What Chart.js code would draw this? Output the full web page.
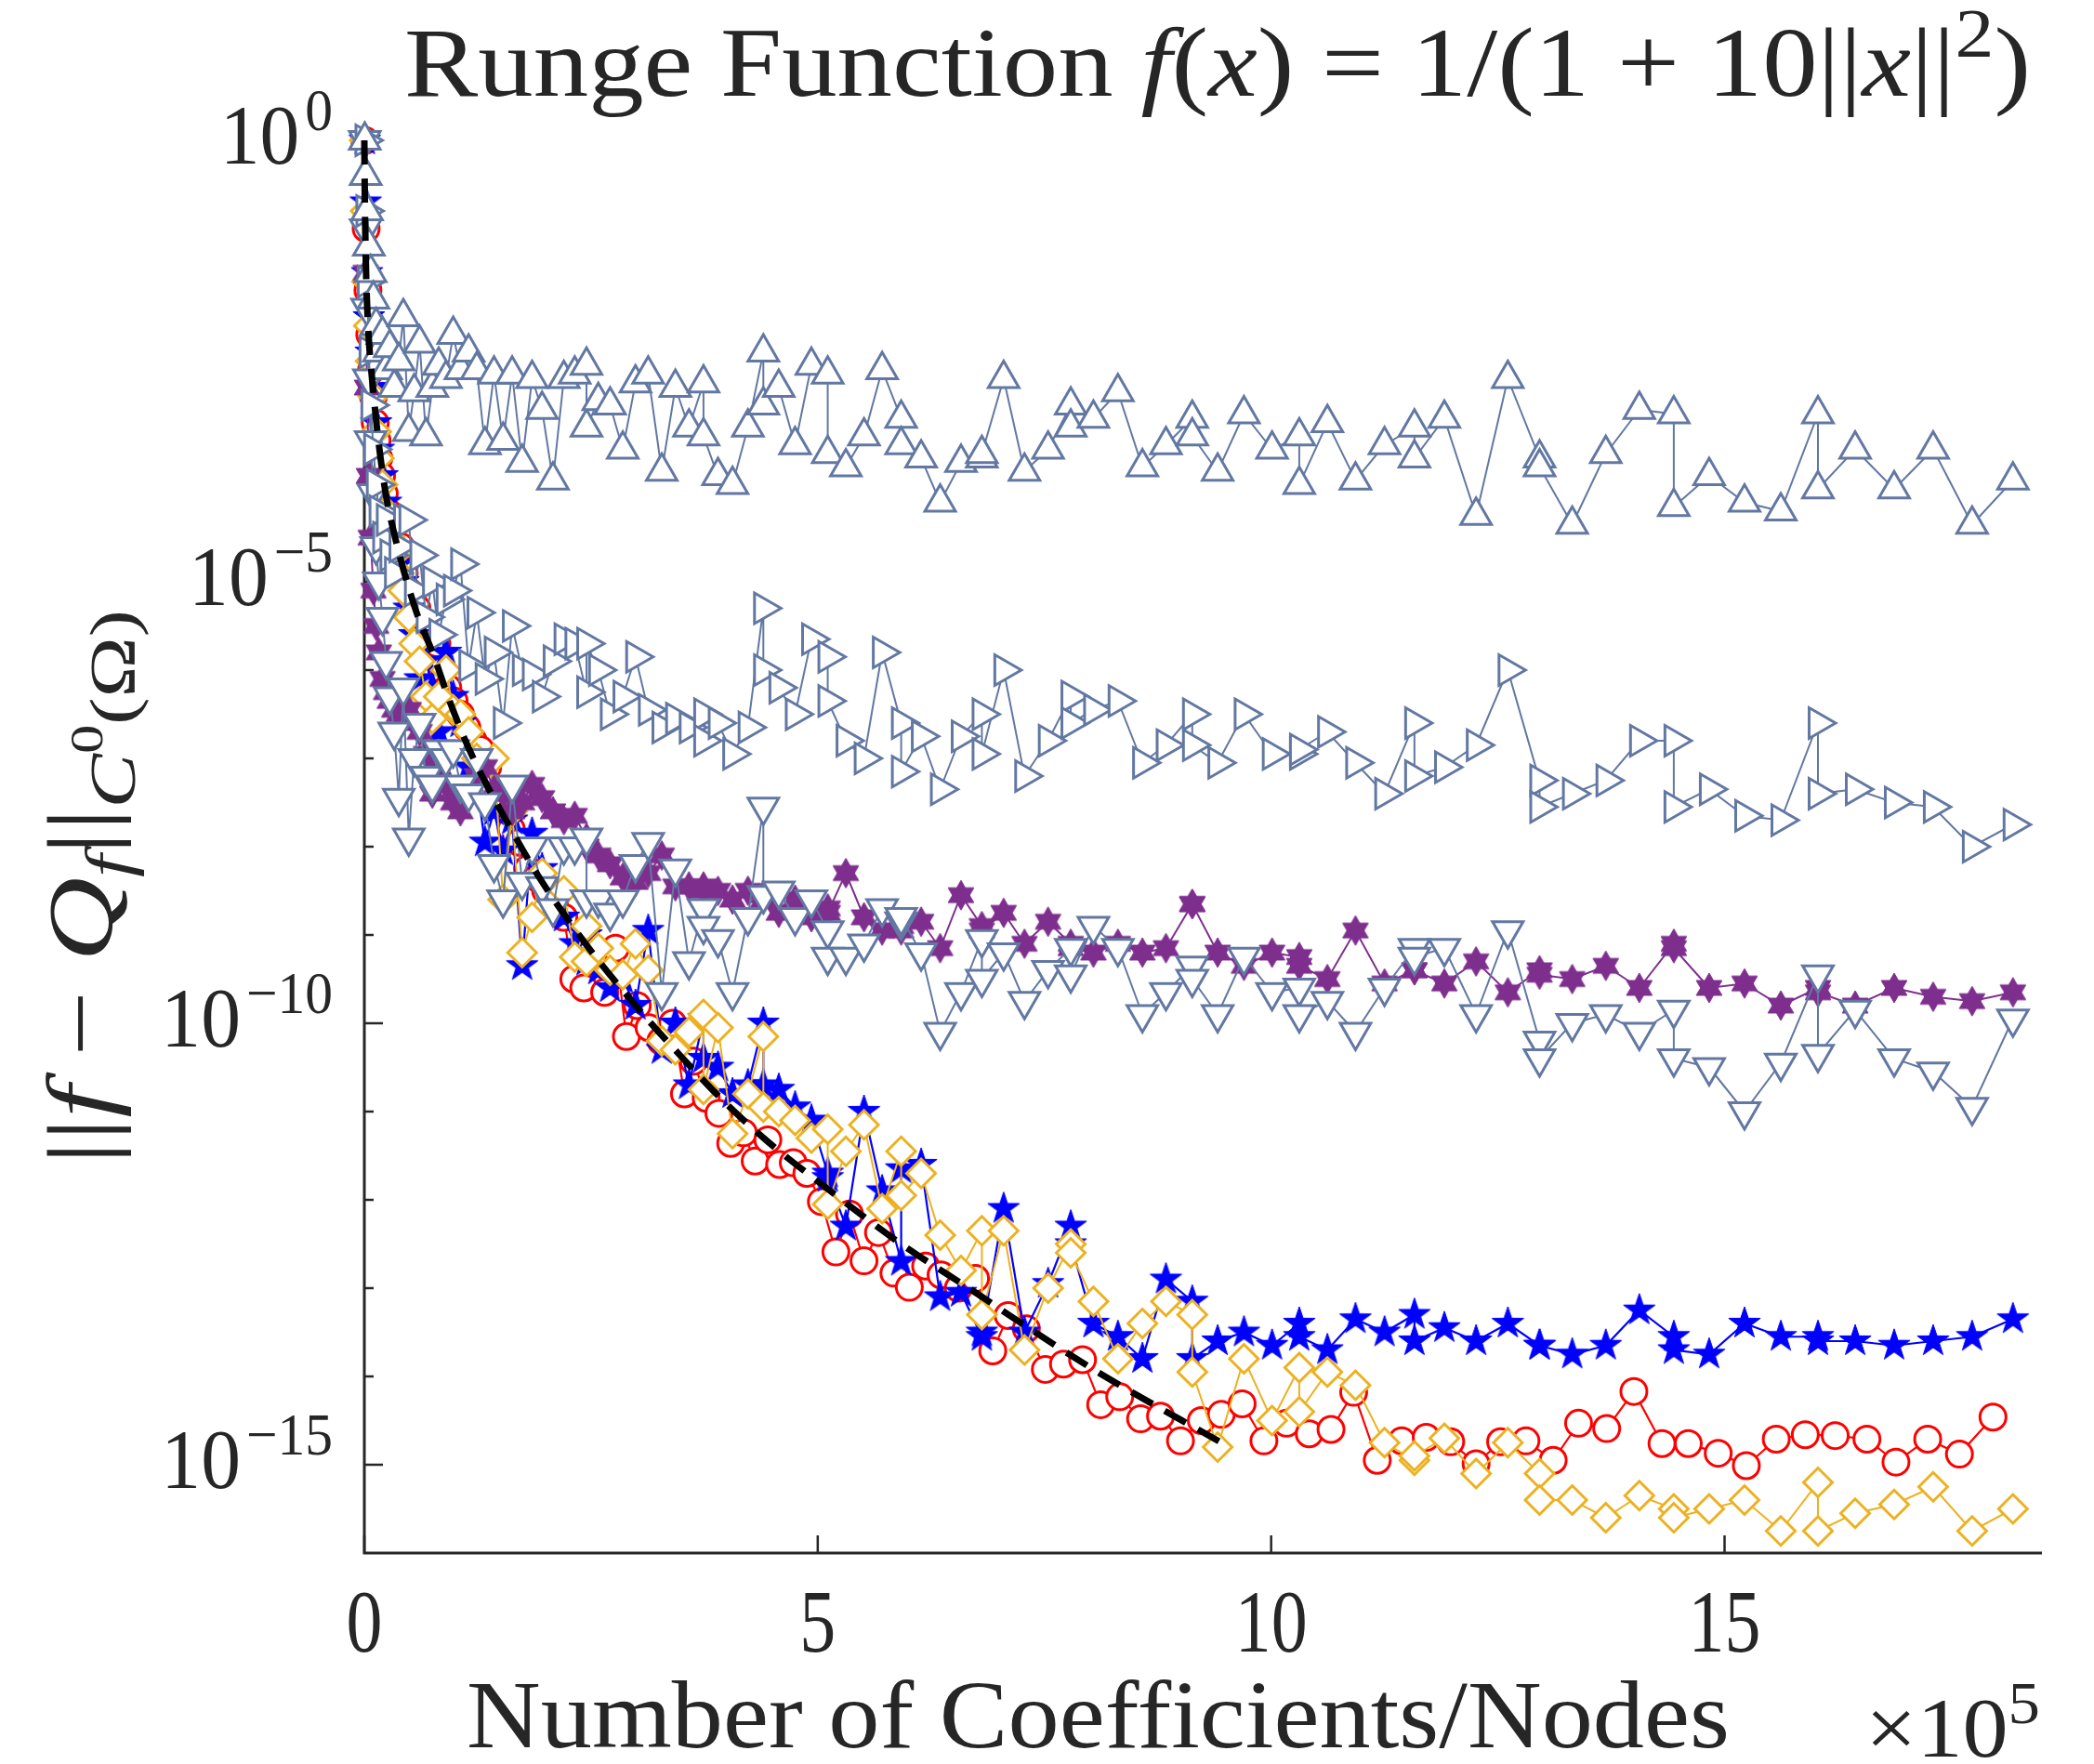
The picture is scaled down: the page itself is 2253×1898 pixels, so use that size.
<!DOCTYPE html>
<html>
<head>
<meta charset="utf-8">
<script src="https://cdn.jsdelivr.net/npm/chart.js@4.4.1/dist/chart.umd.min.js"></script>
<style>
  html, body { margin: 0; padding: 0; background: #fff; }
  #wrap { width: 2253px; height: 1898px; position: relative; }
</style>
</head>
<body>
<div id="wrap"><canvas id="chart"></canvas></div>
<script>
// x positions (units of 1e5) shared by the triangle, hexagram, pentagram and diamond runs
const xGrid = [0.005, 0.015, 0.03, 0.05, 0.07, 0.10, 0.13, 0.16, 0.20, 0.24,
  0.28, 0.33, 0.38, 0.43, 0.49, 0.55, 0.61, 0.68, 0.75, 0.82,
  0.90, 0.98, 1.06, 1.15, 1.24, 1.33, 1.43, 1.53, 1.63, 1.74,
  1.85, 1.96, 2.08, 2.20, 2.32, 2.45, 2.45, 2.58, 2.71, 2.85,
  2.99, 3.13, 3.28, 3.43, 3.58, 3.74, 3.74, 3.90, 4.06, 4.23,
  4.40, 4.40, 4.57, 4.75, 4.93, 5.11, 5.11, 5.31, 5.51, 5.71,
  5.92, 5.92, 6.14, 6.35, 6.58, 6.81, 6.81, 7.05, 7.28, 7.54,
  7.79, 7.79, 8.04, 8.31, 8.58, 8.84, 9.13, 9.13, 9.41, 9.70,
  10.01, 10.31, 10.31, 10.62, 10.93, 11.25, 11.58, 11.58, 11.91, 12.26,
  12.61, 12.96, 12.96, 13.32, 13.69, 14.06, 14.44, 14.44, 14.83, 15.22,
  15.62, 16.03, 16.03, 16.44, 16.87, 17.30, 17.73, 18.18];

// log10 of the error
const logUpTri = [0, -0.4, -0.8, -1.2, -1.5, -1.8, -2.1, -2.4, -2.2, -2.6,
  -2.35, -2.8, -2.5, -2.0, -3.3, -2.85, -2.3, -3.35, -2.8, -2.55,
  -2.7, -2.2, -2.6, -2.4, -2.6, -3.45, -2.65, -3.4, -2.65, -3.65,
  -2.7, -3.05, -3.85, -2.7, -2.65, -2.55, -3.25, -2.95, -3.0, -3.5,
  -2.75, -2.65, -3.75, -2.8, -3.25, -2.75, -3.35, -3.8, -3.9, -3.25,
  -2.4, -3.0, -2.8, -3.45, -2.55, -2.65, -3.55, -3.7, -3.35, -2.6,
  -3.15, -3.45, -3.6, -4.1, -3.65, -3.6, -3.55, -2.7, -3.75, -3.5,
  -3.0, -3.25, -3.15, -2.85, -3.7, -3.45, -3.15, -3.35, -3.75, -3.1,
  -3.5, -3.35, -3.9, -3.2, -3.85, -3.45, -3.25, -3.6, -3.15, -4.25,
  -2.7, -3.6, -3.7, -4.35, -3.55, -3.05, -3.1, -4.15, -3.8, -4.1,
  -4.2, -3.1, -3.95, -3.5, -3.95, -3.5, -4.35, -3.85];

const logRightTri = [0, -0.8, -1.6, -2.4, -3.0, -3.5, -3.9, -4.2, -4.5, -4.3,
  -4.7, -4.9, -4.6, -4.3, -4.3, -5.1, -4.7, -5.4, -5.0, -5.6,
  -5.2, -5.1, -4.8, -5.95, -5.35, -6.1, -5.8, -6.6, -5.5, -6.0,
  -6.05, -6.3, -5.9, -5.65, -5.7, -6.25, -5.7, -6.0, -6.5, -6.3,
  -5.85, -6.45, -6.65, -6.55, -6.65, -6.5, -6.8, -6.6, -6.95, -6.65,
  -5.3, -6.0, -6.2, -6.5, -5.65, -5.85, -6.35, -6.8, -7.0, -5.8,
  -6.6, -7.15, -6.75, -7.35, -6.75, -6.5, -6.95, -6.0, -7.2, -6.8,
  -6.3, -6.6, -6.45, -6.35, -7.05, -6.85, -6.5, -6.85, -7.05, -6.5,
  -6.95, -6.95, -6.9, -6.7, -7.05, -7.4, -6.6, -7.2, -7.1, -6.85,
  -6.0, -7.25, -7.55, -7.4, -7.25, -6.8, -6.8, -7.55, -7.35, -7.65,
  -7.7, -6.6, -7.4, -7.35, -7.5, -7.55, -8.0, -7.75];

const logDownTri = [0, -1.0, -1.9, -2.7, -3.4, -4.0, -4.6, -5.0, -5.4, -5.9,
  -6.3, -6.7, -7.45, -6.2, -7.9, -7.0, -6.6, -7.2, -7.3, -6.9,
  -7.0, -6.9, -7.3, -7.4, -7.0, -7.5, -8.2, -8.6, -7.3, -8.4,
  -8.0, -8.45, -8.7, -8.0, -8.0, -7.9, -8.6, -8.6, -8.75, -8.6,
  -8.2, -7.95, -9.65, -8.25, -9.3, -8.7, -8.9, -9.05, -9.65, -8.8,
  -7.55, -8.55, -8.5, -8.8, -8.6, -8.95, -9.25, -9.25, -9.1, -8.7,
  -8.85, -8.8, -9.2, -10.1, -9.65, -9.05, -9.5, -9.2, -9.75, -9.4,
  -9.15, -9.45, -8.9, -9.15, -9.9, -9.65, -9.35, -9.5, -9.9, -9.25,
  -9.65, -9.6, -9.9, -9.75, -10.1, -9.6, -9.15, -9.25, -9.15, -9.9,
  -8.95, -10.2, -10.4, -10.0, -9.9, -10.1, -9.85, -10.4, -10.5, -11.0,
  -10.45, -9.45, -10.35, -9.85, -10.4, -10.55, -10.95, -9.95];

const logHexagram = [0, -1.5, -2.8, -3.8, -4.5, -5.1, -5.5, -5.8, -6.1, -6.25,
  -6.35, -6.45, -6.5, -6.55, -6.45, -6.6, -6.7, -6.95, -7.4, -7.1,
  -7.3, -7.5, -7.6, -7.3, -7.2, -7.1, -7.35, -7.4, -7.6, -7.5,
  -7.3, -7.45, -7.6, -7.7, -7.65, -7.9, -8.0, -8.1, -8.2, -8.35,
  -8.4, -8.3, -8.1, -8.45, -8.45, -8.5, -8.45, -8.5, -8.6, -8.5,
  -8.6, -8.55, -8.75, -8.6, -8.8, -8.7, -8.75, -8.3, -8.8, -8.95,
  -8.95, -8.9, -8.85, -9.15, -8.55, -8.9, -8.95, -8.75, -9.1, -8.85,
  -9.1, -9.15, -9.2, -9.1, -9.2, -9.15, -8.65, -8.65, -9.2, -9.35,
  -9.2, -9.25, -9.35, -9.5, -8.95, -9.55, -9.4, -9.4, -9.55, -9.3,
  -9.65, -9.4, -9.45, -9.5, -9.35, -9.6, -9.1, -9.15, -9.6, -9.55,
  -9.8, -9.6, -9.65, -9.8, -9.6, -9.7, -9.75, -9.65];

const logPentagram = [0, -0.7, -1.5, -2.0, -2.4, -2.8, -3.2, -3.5, -3.8, -4.1,
  -4.4, -4.6, -4.8, -5.0, -5.3, -5.6, -6.1, -5.9, -6.2, -6.7,
  -5.8, -6.3, -6.6, -7.1, -7.3, -7.95, -7.6, -8.05, -7.7, -9.35,
  -7.85, -8.25, -8.6, -8.8, -9.1, -9.0, -9.3, -9.4, -9.6, -9.5,
  -9.8, -8.95, -10.3, -10.0, -10.7, -9.95, -10.4, -10.5, -10.8, -10.7,
  -10.0, -10.7, -10.75, -10.95, -11.1, -11.7, -11.75, -12.3, -11.0, -11.9,
  -12.7, -11.65, -11.6, -13.1, -13.05, -13.55, -13.5, -12.1, -13.5, -12.95,
  -12.3, -12.5, -13.4, -13.55, -13.8, -12.9, -13.15, -13.8, -13.6, -13.5,
  -13.65, -13.4, -13.55, -13.7, -13.35, -13.5, -13.3, -13.6, -13.45, -13.6,
  -13.4, -13.65, -13.65, -13.75, -13.65, -13.25, -13.55, -13.7, -13.75, -13.4,
  -13.55, -13.55, -13.6, -13.6, -13.65, -13.6, -13.55, -13.35];

const logDiamond = [0, -0.8, -1.6, -2.1, -2.5, -2.9, -3.3, -3.6, -3.9, -4.2,
  -4.5, -4.7, -4.9, -5.1, -5.4, -5.7, -5.9, -6.3, -6.55, -6.3,
  -6.0, -6.45, -6.5, -6.7, -7.0, -7.3, -7.0, -8.6, -7.6, -9.2,
  -8.8, -8.3, -8.6, -8.5, -9.25, -8.9, -9.3, -9.15, -9.4, -9.45,
  -9.1, -9.4, -10.2, -10.3, -10.1, -9.9, -10.75, -10.05, -11.25, -10.8,
  -10.15, -10.95, -11.0, -11.1, -11.3, -11.2, -12.05, -11.45, -11.15, -12.1,
  -11.45, -11.95, -11.7, -12.4, -12.8, -12.35, -13.3, -12.35, -13.7, -13.0,
  -12.5, -12.6, -13.15, -13.8, -13.4, -13.15, -13.3, -13.95, -14.8, -13.8,
  -14.5, -13.9, -14.4, -13.95, -14.1, -14.75, -14.95, -14.9, -14.7, -15.1,
  -14.75, -15.1, -15.4, -15.4, -15.6, -15.35, -15.5, -15.6, -15.5, -15.4,
  -15.75, -15.2, -15.75, -15.55, -15.45, -15.25, -15.75, -15.5];

// the circle run sits on its own, denser grid
const xCircle = [0.005, 0.02, 0.04, 0.06, 0.08, 0.10, 0.12, 0.14, 0.16, 0.19,
  0.22, 0.25, 0.28, 0.32, 0.36, 0.40, 0.44, 0.48, 0.53, 0.58,
  0.63, 0.68, 0.74, 0.80, 0.86, 0.92, 0.99, 1.06, 1.13, 1.20,
  1.28, 1.36, 1.44, 1.53, 1.62, 1.71, 1.80, 1.90, 2.00, 2.10,
  2.20, 2.31, 2.42, 2.53, 2.65, 2.77, 2.89, 3.01, 3.14, 3.27,
  3.40, 3.53, 3.63, 3.77, 3.91, 4.04, 4.18, 4.31, 4.45, 4.58,
  4.73, 4.88, 5.04, 5.20, 5.35, 5.51, 5.67, 5.84, 6.01, 6.19,
  6.36, 6.55, 6.74, 6.93, 7.10, 7.30, 7.51, 7.71, 7.92, 8.12,
  8.33, 8.56, 8.78, 9.00, 9.23, 9.45, 9.68, 9.92, 10.17, 10.42,
  10.66, 10.91, 11.17, 11.44, 11.71, 11.98, 12.26, 12.53, 12.81, 13.11,
  13.39, 13.70, 14.00, 14.31, 14.60, 14.93, 15.24, 15.57, 15.89, 16.22,
  16.57, 16.89, 17.24, 17.59, 17.96];
const logCircle = [0, -1.0, -1.7, -2.2, -2.6, -2.9, -3.2, -3.4, -3.6, -3.8,
  -4.0, -4.2, -4.4, -4.55, -4.7, -4.6, -4.9, -5.1, -5.2, -5.3,
  -5.5, -5.6, -5.75, -5.7, -6.0, -6.2, -6.35, -6.5, -6.65, -6.8,
  -6.9, -7.1, -7.5, -7.5, -7.8, -7.95, -8.25, -8.35, -8.5, -8.6,
  -8.8, -9.5, -9.6, -9.3, -9.65, -9.15, -10.15, -9.8, -10.05, -10.2,
  -10.0, -10.8, -10.43, -10.85, -11.02, -11.36, -11.24, -11.56, -11.32, -11.6,
  -11.58, -11.7, -12.02, -12.59, -12.16, -12.69, -12.37, -12.83, -12.99, -12.75,
  -12.85, -13.0, -12.89, -13.71, -13.31, -13.46, -13.92, -13.86, -13.81, -14.32,
  -14.23, -14.48, -14.45, -14.73, -14.5, -14.43, -14.31, -14.73, -14.53, -14.65,
  -14.6, -14.18, -14.95, -14.73, -14.69, -14.74, -14.99, -14.74, -14.73, -14.95,
  -14.53, -14.59, -14.17, -14.76, -14.76, -14.87, -15.01, -14.71, -14.66, -14.67,
  -14.71, -14.97, -14.71, -14.88, -14.46];

// dashed reference rate
const xRate = [0, 0.005, 0.015, 0.03, 0.1, 0.22, 0.34, 0.56, 0.77, 0.94, 1.18, 1.59,
  1.93, 2.44, 2.95, 3.47, 3.98, 4.46, 5.14, 5.92, 6.74, 7.22, 8.12, 9.45];
const logRate = [0, -0.6, -1.3, -1.85, -2.85, -3.9, -4.5, -5.3, -5.85, -6.35, -6.95, -7.75,
  -8.35, -9.1, -9.75, -10.35, -10.9, -11.35, -11.9, -12.5, -13.05, -13.38, -13.97, -14.75];

// axes
const xTickValues = [0, 5, 10, 15];
const yDecadeTicks = [0, -1, -2, -3, -4, -5, -6, -7, -8, -9, -10, -11, -12, -13, -14, -15];
const yLabelDecades = [0, -5, -10, -15];

const SERIF = '"Liberation Serif", "DejaVu Serif", serif';
const TEXT = '#262626';
const GRAY = 'rgb(98,120,162)';
const PURPLE = '#7E2F8E';
const ORANGE = '#EDB120';

function toPoints(xs, logs) {
  return xs.map((x, i) => ({ x: x, y: Math.pow(10, logs[i]) }));
}

function makeStar(points, outer, inner, color) {
  const size = Math.ceil(outer * 2 + 4);
  const c = document.createElement('canvas');
  c.width = size; c.height = size;
  const g = c.getContext('2d');
  g.translate(size / 2, size / 2);
  g.beginPath();
  for (let i = 0; i < points * 2; i++) {
    const r = i % 2 === 0 ? outer : inner;
    const a = -Math.PI / 2 + i * Math.PI / points;
    g.lineTo(r * Math.cos(a), r * Math.sin(a));
  }
  g.closePath();
  g.fillStyle = color;
  g.fill();
  g.strokeStyle = color;
  g.lineWidth = 1;
  g.stroke();
  return c;
}
const pentagram = makeStar(5, 18, 7, '#0000FF');
const hexagram = makeStar(6, 16, 9.2, PURPLE);

function runFont(r, size) {
  return (r.it ? 'italic ' : '') + Math.round(size * (r.s || 1)) + 'px ' + SERIF;
}
function runsWidth(ctx, runs, size) {
  let w = 0;
  runs.forEach(r => { ctx.font = runFont(r, size); w += ctx.measureText(r.t).width; });
  return w;
}
// draws mixed text so it spans `width` pixels starting at (x, y) baseline
function drawFitted(ctx, runs, size, x, y, width, angle) {
  const w = runsWidth(ctx, runs, size);
  ctx.save();
  ctx.translate(x, y);
  if (angle) ctx.rotate(angle);
  ctx.scale(width / w, 1);
  ctx.textAlign = 'left';
  ctx.textBaseline = 'alphabetic';
  let cx = 0;
  runs.forEach(r => {
    ctx.font = runFont(r, size);
    ctx.fillText(r.t, cx, (r.dy || 0) * size);
    cx += ctx.measureText(r.t).width;
  });
  ctx.restore();
}

const titleRuns = [
  { t: 'Runge Function ' }, { t: 'f', it: 1 }, { t: '(' }, { t: 'x', it: 1 },
  { t: ') = 1/(1 + 10||' }, { t: 'x', it: 1 }, { t: '||' },
  { t: '2', s: 0.7, dy: -0.4 }, { t: ')' }
];
const yTitleRuns = [
  { t: '||' }, { t: 'f', it: 1 }, { t: ' \u2212 ' }, { t: 'Q', it: 1 },
  { t: 'f', it: 1, s: 0.7, dy: 0.2 }, { t: '||' },
  { t: 'C', it: 1, s: 0.7, dy: 0.25 }, { t: '0', s: 0.5, dy: -0.1 },
  { t: '(\u03A9)', s: 0.7, dy: 0.25 }
];
const xTitleRuns = [{ t: 'Number of Coefficients/Nodes' }];
const xScaleRuns = [{ t: '\u00D710' }, { t: '5', s: 0.7, dy: -0.4 }];

const axesPlugin = {
  id: 'matlabAxes',
  beforeDatasetsDraw(chart) {
    const { ctx, chartArea: a, scales: { x, y } } = chart;
    ctx.save();
    ctx.strokeStyle = TEXT;
    ctx.lineWidth = 3;
    ctx.beginPath();
    ctx.moveTo(a.left, a.top);
    ctx.lineTo(a.left, a.bottom);
    ctx.lineTo(a.right, a.bottom);
    ctx.stroke();
    ctx.lineWidth = 2.5;
    ctx.beginPath();
    yDecadeTicks.forEach(e => {
      const py = y.getPixelForValue(Math.pow(10, e));
      const len = e % 5 === 0 ? 20 : 10;
      ctx.moveTo(a.left, py);
      ctx.lineTo(a.left + len, py);
    });
    xTickValues.forEach(v => {
      const px = x.getPixelForValue(v);
      ctx.moveTo(px, a.bottom);
      ctx.lineTo(px, a.bottom - 19);
    });
    ctx.stroke();
    ctx.restore();
  },
  afterDraw(chart) {
    const { ctx, chartArea: a, scales: { x, y } } = chart;
    ctx.save();
    ctx.fillStyle = TEXT;

    // y tick labels 10^k
    const sx = 0.93;
    yLabelDecades.forEach(e => {
      const py = y.getPixelForValue(Math.pow(10, e));
      const sup = e === 0 ? '0' : '\u2212' + (-e);
      ctx.font = '64px ' + SERIF;
      const ws = ctx.measureText(sup).width * sx;
      ctx.font = '92px ' + SERIF;
      const wb = ctx.measureText('10').width * sx;
      const right = a.left - 34;
      ctx.save();
      ctx.translate(right - ws, py - 11);
      ctx.scale(sx, 1);
      ctx.font = '64px ' + SERIF;
      ctx.fillText(sup, 0, 0);
      ctx.restore();
      ctx.save();
      ctx.translate(right - ws - 6 - wb, py + 25);
      ctx.scale(sx, 1);
      ctx.font = '92px ' + SERIF;
      ctx.fillText('10', 0, 0);
      ctx.restore();
    });

    // x tick labels
    xTickValues.forEach(v => {
      const px = x.getPixelForValue(v);
      ctx.save();
      ctx.translate(px, a.bottom + 106);
      ctx.scale(0.82, 1);
      ctx.font = '95px ' + SERIF;
      ctx.textAlign = 'center';
      ctx.fillText(String(v), 0, 0);
      ctx.restore();
    });

    drawFitted(ctx, titleRuns, 105, 435, 103, 1750);
    drawFitted(ctx, xTitleRuns, 103, 502, 1880, 1359);
    drawFitted(ctx, xScaleRuns, 90, 2007, 1890, 188);
    drawFitted(ctx, yTitleRuns, 100, 120, 1253, 597, -Math.PI / 2);
    ctx.restore();
  }
};

function series(label, xs, logs, extra) {
  return Object.assign({
    label: label,
    data: toPoints(xs, logs),
    borderWidth: 2,
    pointBackgroundColor: '#ffffff',
    pointBorderWidth: 3,
    tension: 0,
    clip: false
  }, extra);
}

new Chart(document.getElementById('chart'), {
  type: 'line',
  data: {
    datasets: [
      series('rate', xRate, logRate, {
        borderColor: '#000000', borderWidth: 7, borderDash: [26, 15],
        pointRadius: 0, cubicInterpolationMode: 'monotone', order: 0
      }),
      series('up', xGrid, logUpTri, {
        borderColor: GRAY, pointBorderColor: GRAY, pointStyle: 'triangle',
        pointRadius: 19, order: 1
      }),
      series('right', xGrid, logRightTri, {
        borderColor: GRAY, pointBorderColor: GRAY, pointStyle: 'triangle',
        pointRotation: 90, pointRadius: 19, order: 2
      }),
      series('down', xGrid, logDownTri, {
        borderColor: GRAY, pointBorderColor: GRAY, pointStyle: 'triangle',
        pointRotation: 180, pointRadius: 19, order: 3
      }),
      series('hexagram', xGrid, logHexagram, {
        borderColor: PURPLE, pointStyle: hexagram, pointRadius: 16, order: 4
      }),
      series('diamond', xGrid, logDiamond, {
        borderColor: ORANGE, pointBorderColor: ORANGE, pointStyle: 'rectRot',
        pointRadius: 15.5, order: 5
      }),
      series('pentagram', xGrid, logPentagram, {
        borderColor: '#0000FF', borderWidth: 2.2, pointStyle: pentagram, pointRadius: 18, order: 6
      }),
      series('circle', xCircle, logCircle, {
        borderColor: '#FF0000', borderWidth: 2.2, pointBorderColor: '#FF0000', pointStyle: 'circle',
        pointRadius: 14, order: 7
      })
    ]
  },
  options: {
    responsive: true,
    maintainAspectRatio: false,
    animation: false,
    events: [],
    layout: { padding: { left: 0, right: 56, top: 151, bottom: 0 } },
    plugins: {
      legend: { display: false },
      tooltip: { enabled: false },
      title: { display: false }
    },
    scales: {
      x: {
        type: 'linear', min: 0, max: 18.5,
        grid: { display: false }, border: { display: false },
        ticks: { display: false },
        afterFit: s => { s.height = 227; }
      },
      y: {
        type: 'logarithmic', min: 1e-16, max: 1,
        grid: { display: false }, border: { display: false },
        ticks: { display: false },
        afterFit: s => { s.width = 392; }
      }
    }
  },
  plugins: [axesPlugin]
});
</script>
</body>
</html>
